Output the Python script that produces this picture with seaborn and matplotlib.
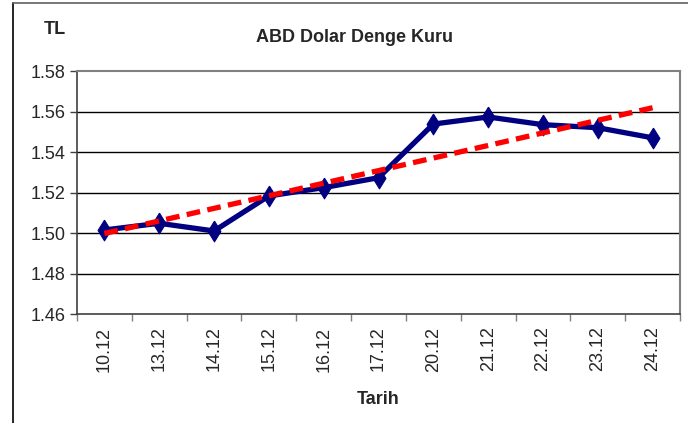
import numpy as np
import pandas as pd
import matplotlib
matplotlib.use("Agg")
import matplotlib.pyplot as plt
from matplotlib.lines import Line2D
from matplotlib.ticker import FixedLocator, FormatStrFormatter
import seaborn as sns

dates = ["10.12", "13.12", "14.12", "15.12", "16.12", "17.12",
         "20.12", "21.12", "22.12", "23.12", "24.12"]
rates = [1.5015, 1.5048, 1.5010, 1.5183, 1.5224, 1.5273,
         1.5538, 1.5573, 1.5535, 1.5520, 1.5470]
yticks = [1.46, 1.48, 1.50, 1.52, 1.54, 1.56, 1.58]

sns.set_theme(style="white")
plt.rcParams['font.family'] = ['Liberation Sans', 'DejaVu Sans']

idx = np.arange(len(dates))
coef = np.polyfit(idx, rates, 1)
trend = np.polyval(coef, idx)
df = pd.DataFrame({"i": idx, "rate": rates, "trend": trend})

fig = plt.figure(figsize=(6.88, 4.23), dpi=100)
ax = fig.add_axes([77/688, 1 - 314/423, (680-77)/688, (314-71)/423])

for y in yticks[1:-1]:
    ax.axhline(y, color="black", lw=1.0, zorder=1)

diamond = [(0, 1), (0.62, 0), (0, -1), (-0.62, 0), (0, 1)]
sns.lineplot(data=df, x="i", y="rate", ax=ax, color="#000080", lw=3.8,
             marker=diamond, markersize=15, markeredgecolor="#000080", zorder=3)
sns.lineplot(data=df, x="i", y="trend", ax=ax, color="#FF0000", lw=3.8,
             linestyle=(0, (2.6, 1.4)), zorder=4)

ax.set_xlim(-0.5, len(dates) - 0.5)
ax.set_ylim(1.46, 1.58)
ax.set_yticks(yticks)
ax.yaxis.set_major_formatter(FormatStrFormatter("%.2f"))
ax.set_xticks(idx)
ax.set_xticklabels(dates, rotation=90)
ax.xaxis.set_minor_locator(FixedLocator(np.arange(-0.5, len(dates), 1.0)))
ax.tick_params(axis="x", which="major", length=0, labelsize=13, pad=9)
ax.tick_params(axis="x", which="minor", length=5, width=1, color="#808080", direction="out", bottom=True)
ax.tick_params(axis="y", which="major", length=5, width=1, color="#404040",
               direction="out", left=True, labelsize=13, pad=3)

ax.set_xlabel("Tarih", fontsize=13, fontweight="bold", labelpad=14)
ax.set_ylabel("")
for s in ["top", "right"]:
    ax.spines[s].set_color("#808080")
    ax.spines[s].set_linewidth(1.5)
for s in ["left", "bottom"]:
    ax.spines[s].set_color("#404040")
    ax.spines[s].set_linewidth(1.2)

fig.text(355/688, 1 - 38/423, "ABD Dolar Denge Kuru", ha="center", va="center",
         fontsize=13, fontweight="bold")
fig.text(55/688, 1 - 30/423, "TL", ha="center", va="center",
         fontsize=13, fontweight="bold")

fig.add_artist(Line2D([13/688, 13/688], [0, 1 - 3/423], color="black", lw=1.2,
                      transform=fig.transFigure))
fig.add_artist(Line2D([13/688, 1], [1 - 3/423, 1 - 3/423], color="#606060", lw=1.2,
                      transform=fig.transFigure))

fig.savefig("out.png", dpi=100)
